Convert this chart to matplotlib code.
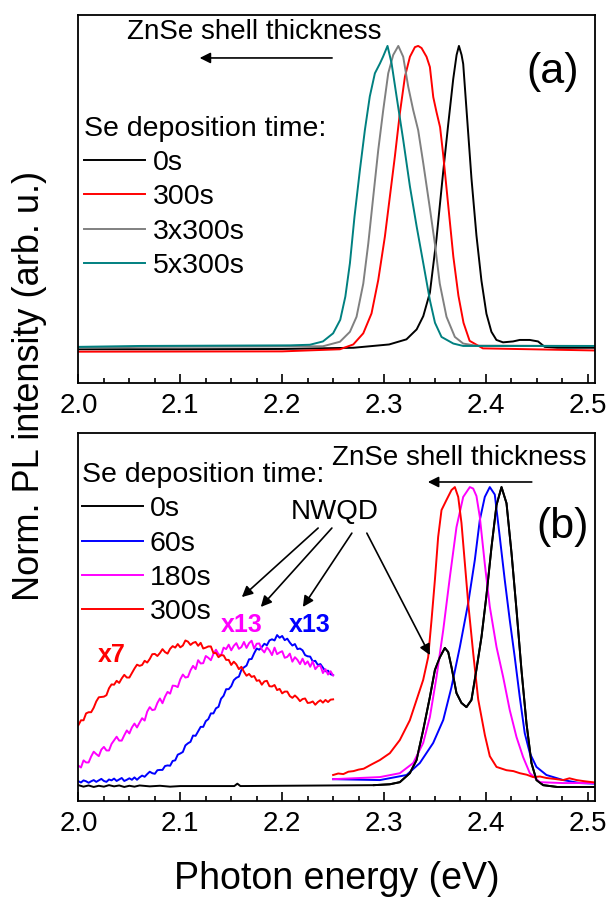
import numpy as np
import matplotlib.pyplot as plt
from matplotlib.ticker import MultipleLocator, FormatStrFormatter

plt.rcParams['font.family'] = ['Liberation Sans', 'DejaVu Sans']

# ---- (a) normalized PL, core-shell NWs for several Se deposition times ----
e_0s_a = [2.0, 2.1, 2.2, 2.27, 2.305, 2.322, 2.332, 2.3385, 2.345, 2.3515, 2.358,
          2.363, 2.3679, 2.3712, 2.3735, 2.3761, 2.3777, 2.3809, 2.3858, 2.3907,
          2.3956, 2.4005, 2.4054, 2.4103, 2.4168, 2.4266, 2.4332, 2.443, 2.4512,
          2.4577, 2.47, 2.507]
i_0s_a = [-0.008, -0.008, -0.007, -0.003, 0.008, 0.025, 0.058, 0.102, 0.18, 0.36, 0.58,
          0.74, 0.89, 0.97, 1.0, 0.97, 0.94, 0.79, 0.56, 0.37,
          0.22, 0.11, 0.05, 0.023, 0.015, 0.018, 0.023, 0.023, 0.018,
          0.0, -0.003, -0.003]

e_300s_a = [2.0, 2.2, 2.2567, 2.2698, 2.2796, 2.2877, 2.2943, 2.3008, 2.3057, 2.3106,
            2.3155, 2.3205, 2.3254, 2.3303, 2.3335, 2.3368, 2.3417, 2.345, 2.3483,
            2.3515, 2.355, 2.358, 2.363, 2.368, 2.373, 2.378, 2.384, 2.397, 2.507]
i_300s_a = [-0.016, -0.015, -0.008, 0.008, 0.045, 0.111, 0.222, 0.366, 0.499, 0.632,
            0.776, 0.898, 0.964, 0.996, 1.0, 0.993, 0.964, 0.93, 0.83,
            0.78, 0.73, 0.64, 0.47, 0.30, 0.17, 0.08, 0.02, -0.005, -0.012]

e_900s_a = [2.0, 2.06, 2.24, 2.2567, 2.2665, 2.273, 2.2796, 2.2845, 2.2894, 2.2943,
            2.2992, 2.3041, 2.309, 2.314, 2.3188, 2.3237, 2.3286, 2.3335, 2.3385,
            2.345, 2.35, 2.3547, 2.3613, 2.3695, 2.3777, 2.39, 2.507]
i_900s_a = [-0.003, 0.0, 0.002, 0.017, 0.05, 0.1, 0.21, 0.343, 0.499, 0.654,
            0.787, 0.909, 0.97, 1.0, 0.964, 0.865, 0.787, 0.72, 0.61,
            0.46, 0.34, 0.21, 0.10, 0.033, 0.011, 0.004, 0.003]

e_1500s_a = [2.0, 2.06, 2.2076, 2.2272, 2.24, 2.25, 2.257, 2.262, 2.2665, 2.271,
             2.2763, 2.2812, 2.286, 2.291, 2.296, 2.299, 2.3034, 2.3074, 2.3123,
             2.3188, 2.3254, 2.332, 2.3385, 2.345, 2.35, 2.3564, 2.368, 2.3777, 2.507]
i_1500s_a = [0.0, 0.003, 0.005, 0.007, 0.018, 0.045, 0.09, 0.167, 0.278, 0.433,
             0.588, 0.721, 0.832, 0.909, 0.942, 0.964, 1.0, 0.942, 0.832,
             0.688, 0.533, 0.40, 0.278, 0.155, 0.08, 0.033, 0.011, 0.003, 0.003]

labels_a = ['0s', '300s', '3x300s', '5x300s']
colors_a = ['black', '#ff0000', '#808080', '#008080']

# ---- (b) NW spectra; the NWQD band below 2.25 eV is magnified ----
e_nwqd = np.round(np.linspace(2.0, 2.25, 101), 4)

i_300s_qd = [  # x7
    0.204, 0.220, 0.220, 0.243, 0.247, 0.247, 0.262, 0.283, 0.297, 0.298,
    0.299, 0.304, 0.327, 0.340, 0.339, 0.352, 0.345, 0.360, 0.372, 0.363,
    0.363, 0.378, 0.393, 0.406, 0.402, 0.405, 0.419, 0.413, 0.425, 0.441,
    0.442, 0.435, 0.445, 0.458, 0.448, 0.443, 0.459, 0.468, 0.463, 0.475,
    0.464, 0.470, 0.487, 0.483, 0.472, 0.479, 0.482, 0.469, 0.479, 0.460,
    0.463, 0.467, 0.467, 0.445, 0.445, 0.431, 0.438, 0.437, 0.422, 0.422,
    0.405, 0.416, 0.407, 0.391, 0.399, 0.382, 0.369, 0.375, 0.365, 0.368,
    0.352, 0.354, 0.339, 0.350, 0.352, 0.334, 0.333, 0.338, 0.321, 0.325,
    0.310, 0.316, 0.316, 0.301, 0.295, 0.303, 0.295, 0.284, 0.291, 0.293,
    0.278, 0.279, 0.283, 0.272, 0.281, 0.287, 0.279, 0.288, 0.281, 0.289,
    0.290]
i_180s_qd = [  # x13
    0.068, 0.062, 0.086, 0.079, 0.079, 0.099, 0.115, 0.107, 0.100, 0.122,
    0.131, 0.119, 0.119, 0.141, 0.153, 0.165, 0.152, 0.152, 0.170, 0.186,
    0.176, 0.196, 0.209, 0.196, 0.212, 0.227, 0.219, 0.249, 0.264, 0.254,
    0.256, 0.278, 0.293, 0.277, 0.299, 0.315, 0.309, 0.336, 0.335, 0.331,
    0.357, 0.373, 0.363, 0.365, 0.387, 0.402, 0.391, 0.421, 0.410, 0.411,
    0.435, 0.429, 0.421, 0.442, 0.456, 0.441, 0.437, 0.463, 0.458, 0.473,
    0.454, 0.469, 0.478, 0.459, 0.465, 0.482, 0.462, 0.478, 0.486, 0.460,
    0.476, 0.477, 0.457, 0.447, 0.464, 0.454, 0.438, 0.463, 0.441, 0.447,
    0.451, 0.429, 0.432, 0.443, 0.416, 0.431, 0.422, 0.408, 0.426, 0.407,
    0.417, 0.399, 0.417, 0.391, 0.401, 0.403, 0.378, 0.391, 0.373, 0.384,
    0.370]
i_60s_qd = [  # x13
    0.016, 0.012, 0.019, 0.016, 0.011, 0.016, 0.020, 0.014, 0.019, 0.024,
    0.017, 0.014, 0.022, 0.019, 0.025, 0.017, 0.022, 0.027, 0.017, 0.021,
    0.026, 0.021, 0.029, 0.021, 0.029, 0.035, 0.031, 0.040, 0.048, 0.043,
    0.041, 0.053, 0.054, 0.054, 0.067, 0.069, 0.068, 0.084, 0.086, 0.105,
    0.109, 0.114, 0.136, 0.143, 0.148, 0.169, 0.168, 0.183, 0.198, 0.198,
    0.217, 0.224, 0.243, 0.243, 0.260, 0.265, 0.292, 0.302, 0.324, 0.324,
    0.334, 0.354, 0.362, 0.366, 0.389, 0.397, 0.403, 0.424, 0.425, 0.444,
    0.460, 0.456, 0.465, 0.476, 0.471, 0.487, 0.491, 0.487, 0.505, 0.496,
    0.502, 0.488, 0.493, 0.480, 0.470, 0.475, 0.458, 0.460, 0.454, 0.438,
    0.434, 0.433, 0.417, 0.419, 0.405, 0.408, 0.396, 0.384, 0.386, 0.374,
    0.371]

e_0s_b = [2.0, 2.005, 2.01, 2.015, 2.02, 2.025, 2.03, 2.035, 2.04, 2.045, 2.05, 2.055,
          2.06, 2.07, 2.08, 2.09, 2.1, 2.153, 2.156, 2.159, 2.29, 2.3057, 2.3155,
          2.3253, 2.3319, 2.3384, 2.345, 2.3499, 2.3548, 2.3597, 2.363, 2.3662,
          2.3711, 2.376, 2.3809, 2.3858, 2.3907, 2.3957, 2.4006, 2.4055, 2.4104,
          2.4153, 2.4202, 2.4251, 2.43, 2.4349, 2.4398, 2.4447, 2.4496, 2.4562,
          2.47, 2.507]
i_0s_b = [0.003, -0.002, 0.002, -0.003, 0.001, -0.002, 0.003, -0.001, 0.002, -0.003,
          0.001, -0.002, 0.002, -0.001, 0.001, -0.002, 0.0, 0.0, 0.008, 0.0, 0.003,
          0.006, 0.013, 0.043, 0.087, 0.187, 0.298, 0.388, 0.431, 0.462, 0.448,
          0.398, 0.311, 0.278, 0.264, 0.288, 0.39, 0.50, 0.64, 0.80, 0.94, 1.0,
          0.946, 0.78, 0.59, 0.388, 0.21, 0.077, 0.02, 0.003, -0.003, -0.003]

e_60s_b = [2.25, 2.2959, 2.3221, 2.3351, 2.3482, 2.3581, 2.3662, 2.3744, 2.3826,
           2.3891, 2.394, 2.3989, 2.4038, 2.4087, 2.4136, 2.4185, 2.4234, 2.4283,
           2.4332, 2.4381, 2.4431, 2.4496, 2.4594, 2.4758, 2.4922, 2.507]
i_60s_b = [0.023, 0.02, 0.037, 0.077, 0.144, 0.221, 0.331, 0.465, 0.612,
           0.756, 0.89, 0.967, 1.0, 0.975, 0.833, 0.689, 0.555, 0.431,
           0.298, 0.177, 0.11, 0.064, 0.037, 0.02, 0.01, 0.008]

e_180s_b = [2.25, 2.2959, 2.3155, 2.3286, 2.3384, 2.345, 2.3515, 2.3581, 2.3646,
            2.3711, 2.3777, 2.3842, 2.3875, 2.3907, 2.394, 2.399, 2.4038, 2.4104,
            2.4169, 2.4234, 2.43, 2.4365, 2.4431, 2.4529, 2.4758, 2.507]
i_180s_b = [0.023, 0.03, 0.043, 0.077, 0.144, 0.231, 0.365, 0.522, 0.699,
            0.866, 0.967, 1.0, 0.995, 0.97, 0.90, 0.74, 0.60, 0.465,
            0.365, 0.254, 0.164, 0.097, 0.043, 0.013, 0.01, 0.01]

e_300s_b = [2.25, 2.255, 2.26, 2.265, 2.27, 2.275, 2.28, 2.2875, 2.2959, 2.3057,
            2.3155, 2.3253, 2.3319, 2.3384, 2.3433, 2.3466, 2.3499, 2.3531, 2.3564,
            2.3613, 2.3662, 2.3695, 2.3728, 2.376, 2.3793, 2.3826, 2.3875, 2.3924,
            2.399, 2.4038, 2.4104, 2.4202, 2.427, 2.4333, 2.44, 2.4463, 2.453,
            2.4594, 2.467, 2.4758, 2.482, 2.489, 2.497, 2.507]
i_300s_b = [0.037, 0.042, 0.040, 0.048, 0.050, 0.055, 0.058, 0.072, 0.087, 0.11,
            0.154, 0.22, 0.288, 0.355, 0.431, 0.555, 0.689, 0.833, 0.923,
            0.957, 0.99, 1.0, 0.967, 0.88, 0.746, 0.612, 0.445, 0.29,
            0.17, 0.10, 0.064, 0.053, 0.050, 0.043, 0.038, 0.030, 0.032,
            0.027, 0.024, 0.020, 0.026, 0.020, 0.016, 0.012]

labels_b = ['0s', '60s', '180s', '300s']
colors_b = ['black', '#0000ff', '#ff00ff', '#ff0000']

LW = 1.4
FS = 20.5


def style_axis(ax, ylim):
    ax.set_xlim(2.0, 2.507)
    ax.set_ylim(*ylim)
    ax.xaxis.set_major_locator(MultipleLocator(0.1))
    ax.xaxis.set_minor_locator(MultipleLocator(0.025))
    ax.xaxis.set_major_formatter(FormatStrFormatter('%.1f'))
    ax.set_yticks([])
    ax.tick_params(axis='x', which='both', direction='in', top=False,
                   labelsize=20, pad=7, width=1.2)
    ax.tick_params(axis='x', which='major', length=6.5)
    ax.tick_params(axis='x', which='minor', length=3.5)
    for sp in ax.spines.values():
        sp.set_linewidth(1.3)


def arrow(ax, start, end):
    ax.annotate('', xy=end, xytext=start,
                arrowprops=dict(arrowstyle='-|>', color='black', lw=1.2,
                                mutation_scale=16, shrinkA=0, shrinkB=0))


def add_legend(ax, anchor):
    leg = ax.legend(title='Se deposition time:', loc='upper left',
                    bbox_to_anchor=anchor, frameon=False, fontsize=FS,
                    title_fontsize=FS, handlelength=2.15, handletextpad=0.25,
                    labelspacing=0.29, borderpad=0, borderaxespad=0,
                    alignment='left')
    return leg


fig = plt.figure(figsize=(6.08, 8.99), dpi=100)
ax_a = fig.add_axes([0.129, 0.574, 0.8495, 0.4094])
ax_b = fig.add_axes([0.129, 0.109, 0.8495, 0.4094])

# panel (a)
series_a = [(e_0s_a, i_0s_a), (e_300s_a, i_300s_a),
            (e_900s_a, i_900s_a), (e_1500s_a, i_1500s_a)]
for (e, i), lab, col in zip(series_a, labels_a, colors_a):
    ax_a.plot(e, i, color=col, lw=LW, label=lab)
style_axis(ax_a, (-0.12, 1.103))
add_legend(ax_a, (0.011, 0.726))
ax_a.text(2.1727, 1.045, 'ZnSe shell thickness', fontsize=20,
          ha='center', va='center')
arrow(ax_a, (2.249, 0.96), (2.119, 0.96))
ax_a.text(2.4656, 0.915, '(a)', fontsize=31, ha='center', va='center')

# panel (b)
ax_b.plot(e_0s_b, i_0s_b, color=colors_b[0], lw=LW, label=labels_b[0])
ax_b.plot(e_nwqd, i_60s_qd, color=colors_b[1], lw=LW, label=labels_b[1])
ax_b.plot(e_nwqd, i_180s_qd, color=colors_b[2], lw=LW, label=labels_b[2])
ax_b.plot(e_nwqd, i_300s_qd, color=colors_b[3], lw=LW, label=labels_b[3])
ax_b.plot(e_60s_b, i_60s_b, color=colors_b[1], lw=LW)
ax_b.plot(e_180s_b, i_180s_b, color=colors_b[2], lw=LW)
ax_b.plot(e_300s_b, i_300s_b, color=colors_b[3], lw=LW)
ax_b.plot(e_0s_b[20:], i_0s_b[20:], color=colors_b[0], lw=LW)
style_axis(ax_b, (-0.05, 1.181))
add_legend(ax_b, (0.006, 0.921))

ax_b.text(2.3735, 1.097, 'ZnSe shell thickness', fontsize=20,
          ha='center', va='center')
arrow(ax_b, (2.445, 1.017), (2.343, 1.017))
ax_b.text(2.4755, 0.866, '(b)', fontsize=31, ha='center', va='center')

ax_b.text(2.2518, 0.916, 'NWQD', fontsize=20, ha='center', va='center')
arrow(ax_b, (2.2353, 0.863), (2.1604, 0.632))
arrow(ax_b, (2.2488, 0.863), (2.179, 0.599))
arrow(ax_b, (2.2684, 0.846), (2.2203, 0.599))
arrow(ax_b, (2.2831, 0.846), (2.345, 0.438))

ax_b.text(2.0326, 0.438, 'x7', color=colors_b[3], fontsize=18,
          fontweight='bold', ha='center', va='center')
ax_b.text(2.160, 0.538, 'x13', color=colors_b[2], fontsize=18,
          fontweight='bold', ha='center', va='center')
ax_b.text(2.2272, 0.538, 'x13', color=colors_b[1], fontsize=18,
          fontweight='bold', ha='center', va='center')

fig.text(0.049, 0.571, 'Norm. PL intensity (arb. u.)', rotation=90,
         fontsize=26, ha='center', va='center')
fig.text(0.5535, 0.0111, 'Photon energy (eV)', fontsize=27,
         ha='center', va='baseline')

fig.savefig('out.png', dpi=100)
